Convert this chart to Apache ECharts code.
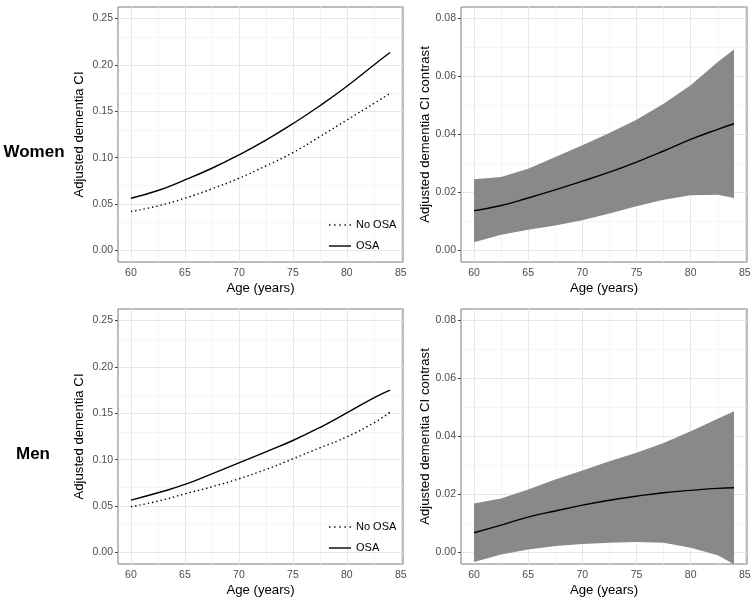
<!DOCTYPE html>
<html>
<head>
<meta charset="utf-8">
<script src="https://cdn.jsdelivr.net/npm/echarts@6/dist/echarts.min.js"></script>
<style>html,body{margin:0;padding:0;background:#fff}#c{width:754px;height:604px}</style>
</head>
<body>
<div id="c"></div>
<script>
// ---- data ----
var ages = [60, 62.5, 65, 67.5, 70, 72.5, 75, 77.5, 80, 82.5, 84];

var womenOSA   = [0.0563, 0.0646, 0.0760, 0.0886, 0.1030, 0.1190, 0.1367, 0.1560, 0.1770, 0.2000, 0.2134];
var womenNoOSA = [0.0420, 0.0480, 0.0563, 0.0664, 0.0778, 0.0911, 0.1055, 0.1227, 0.1406, 0.1585, 0.1693];
var womenDiff  = [0.0137, 0.0155, 0.0181, 0.0209, 0.0239, 0.0270, 0.0305, 0.0343, 0.0383, 0.0418, 0.0437];
var womenUpper = [0.0246, 0.0253, 0.0282, 0.0322, 0.0363, 0.0405, 0.0451, 0.0506, 0.0570, 0.0650, 0.0693];
var womenLower = [0.0028, 0.0054, 0.0071, 0.0086, 0.0104, 0.0127, 0.0152, 0.0175, 0.0190, 0.0192, 0.0181];

var menOSA   = [0.0564, 0.0643, 0.0733, 0.0848, 0.0966, 0.1085, 0.1207, 0.1347, 0.1505, 0.1667, 0.1750];
var menNoOSA = [0.0492, 0.0553, 0.0632, 0.0708, 0.0794, 0.0894, 0.1009, 0.1128, 0.1246, 0.1397, 0.1512];
var menDiff  = [0.0068, 0.0094, 0.0122, 0.0143, 0.0163, 0.0180, 0.0194, 0.0206, 0.0214, 0.0221, 0.0223];
var menUpper = [0.0169, 0.0186, 0.0217, 0.0252, 0.0283, 0.0315, 0.0344, 0.0378, 0.0418, 0.0461, 0.0487];
var menLower = [-0.0033, -0.0007, 0.0010, 0.0022, 0.0029, 0.0033, 0.0036, 0.0033, 0.0016, -0.0010, -0.0041];

var xTicks = [60, 65, 70, 75, 80, 85];
var xMinor = [62.5, 67.5, 72.5, 77.5, 82.5];
var yTicksCI = [0, 0.05, 0.10, 0.15, 0.20, 0.25];
var yMinorCI = [0.025, 0.075, 0.125, 0.175, 0.225];
var yTicksC = [0, 0.02, 0.04, 0.06, 0.08];
var yMinorC = [0.01, 0.03, 0.05, 0.07];

var rowLabels = ['Women', 'Men'];
var seriesNames = ['No OSA', 'OSA'];
var xTitle = 'Age (years)';
var yTitleCI = 'Adjusted dementia CI';
var yTitleC = 'Adjusted dementia CI contrast';

// ---- build ----
var FONT = '"Liberation Sans", Arial, Helvetica, sans-serif';
function pairs(y) { return ages.map(function (a, i) { return [a, y[i]]; }); }

var grids = [
  {left: 118, top: 7, width: 285, height: 255},
  {left: 461, top: 7, width: 286, height: 255},
  {left: 118, top: 309, width: 285, height: 255},
  {left: 461, top: 309, width: 286, height: 255}
];
grids.forEach(function (g) { g.show = true; g.borderColor = '#7a7a7a'; g.borderWidth = 1; g.backgroundColor = '#fff'; g.containLabel = false; });

var xAxes = [], yAxes = [], series = [];
for (var gi = 0; gi < 4; gi++) {
  xAxes.push({
    type: 'value', gridIndex: gi, min: 58.8, max: 85.2,
    name: xTitle, nameLocation: 'middle', nameGap: 20,
    nameTextStyle: {fontFamily: FONT, fontSize: 13.2, color: '#000'},
    axisLine: {show: false},
    splitLine: {show: false},
    axisTick: {show: true, length: 3, lineStyle: {color: '#444'}, customValues: xTicks},
    axisLabel: {customValues: xTicks, margin: 6, fontFamily: FONT, fontSize: 10.5, color: '#4d4d4d'}
  });
  var isCI = (gi % 2 === 0);
  yAxes.push({
    type: 'value', gridIndex: gi,
    min: isCI ? -0.0125 : -0.004, max: isCI ? 0.2625 : 0.084,
    name: isCI ? yTitleCI : yTitleC, nameLocation: 'middle', nameGap: isCI ? 32 : 28,
    nameTextStyle: {fontFamily: FONT, fontSize: 13.2, color: '#000'},
    axisLine: {show: false},
    splitLine: {show: false},
    axisTick: {show: true, length: 3, lineStyle: {color: '#444'}, customValues: isCI ? yTicksCI : yTicksC},
    axisLabel: {customValues: isCI ? yTicksCI : yTicksC, margin: 5, fontFamily: FONT, fontSize: 10.5, color: '#4d4d4d',
      formatter: function (v) { return v.toFixed(2); }}
  });
  // grid lines (theme_bw style major + minor)
  var maj = isCI ? yTicksCI : yTicksC, mnr = isCI ? yMinorCI : yMinorC;
  var ml = [];
  xMinor.forEach(function (v) { ml.push({xAxis: v, lineStyle: {color: '#f2f2f2', width: 0.8, type: 'solid'}}); });
  mnr.forEach(function (v) { ml.push({yAxis: v, lineStyle: {color: '#f2f2f2', width: 0.8, type: 'solid'}}); });
  xTicks.forEach(function (v) { ml.push({xAxis: v, lineStyle: {color: '#e6e6e6', width: 1, type: 'solid'}}); });
  maj.forEach(function (v) { ml.push({yAxis: v, lineStyle: {color: '#e6e6e6', width: 1, type: 'solid'}}); });
  series.push({
    type: 'line', xAxisIndex: gi, yAxisIndex: gi, data: [], z: 1, silent: true,
    markLine: {z: 1, silent: true, symbol: ['none', 'none'], label: {show: false}, animation: false, data: ml}
  });
}

function addCI(gi, osa, noosa) {
  series.push({
    name: seriesNames[0], type: 'line', xAxisIndex: gi, yAxisIndex: gi, data: pairs(noosa),
    smooth: true, showSymbol: false, symbol: 'none', z: 3,
    itemStyle: {color: '#000'},
    lineStyle: {color: '#000', width: 1.4, type: [1.4, 2.9], cap: 'butt'}
  });
  series.push({
    name: seriesNames[1], type: 'line', xAxisIndex: gi, yAxisIndex: gi, data: pairs(osa),
    smooth: true, showSymbol: false, symbol: 'none', z: 3,
    itemStyle: {color: '#000'},
    lineStyle: {color: '#000', width: 1.4, type: 'solid'}
  });
}
function addContrast(gi, diff, lower, upper) {
  var rows = ages.map(function (a, i) { return [a, lower[i], upper[i]]; });
  series.push({
    type: 'custom', xAxisIndex: gi, yAxisIndex: gi, data: rows, z: 2, clip: true, silent: true,
    encode: {x: 0, y: [1, 2]},
    renderItem: function (params, api) {
      if (params.dataIndex !== 0) return;
      var pts = [];
      for (var i = 0; i < rows.length; i++) pts.push(api.coord([rows[i][0], rows[i][2]]));
      for (var j = rows.length - 1; j >= 0; j--) pts.push(api.coord([rows[j][0], rows[j][1]]));
      return {type: 'polygon', shape: {points: pts}, style: {fill: '#898989', stroke: null}};
    }
  });
  series.push({
    type: 'line', xAxisIndex: gi, yAxisIndex: gi, data: pairs(diff),
    smooth: true, showSymbol: false, symbol: 'none', z: 3,
    lineStyle: {color: '#000', width: 1.4}
  });
}
addCI(0, womenOSA, womenNoOSA);
addContrast(1, womenDiff, womenLower, womenUpper);
addCI(2, menOSA, menNoOSA);
addContrast(3, menDiff, menLower, menUpper);

var DOTTED_ICON = 'path://M0,0h1.4v1.4h-1.4z M5.15,0h1.4v1.4h-1.4z M10.3,0h1.4v1.4h-1.4z M15.45,0h1.4v1.4h-1.4z M20.6,0h1.4v1.4h-1.4z';
function legendAt(top) {
  return {
    orient: 'vertical', left: 329, top: top, padding: 0, itemWidth: 22, itemHeight: 1.4, itemGap: 10,
    data: [{name: seriesNames[0], icon: DOTTED_ICON}, {name: seriesNames[1], icon: 'rect'}],
    selectedMode: false,
    itemStyle: {color: '#000', borderWidth: 0},
    textStyle: {fontFamily: FONT, fontSize: 11, color: '#000'}
  };
}

var option = {
  animation: false,
  backgroundColor: '#fff',
  grid: grids,
  xAxis: xAxes,
  yAxis: yAxes,
  legend: [legendAt(219.5), legendAt(521.5)],
  graphic: [
    {type: 'text', style: {text: rowLabels[0], font: 'bold 17px ' + FONT, fill: '#000', textAlign: 'center', textVerticalAlign: 'middle', x: 34, y: 152}},
    {type: 'text', style: {text: rowLabels[1], font: 'bold 17px ' + FONT, fill: '#000', textAlign: 'center', textVerticalAlign: 'middle', x: 33, y: 454}}
  ],
  series: series
};

var chart = echarts.init(document.getElementById('c'), null, {renderer: 'canvas'});
chart.setOption(option);
</script>
</body>
</html>
